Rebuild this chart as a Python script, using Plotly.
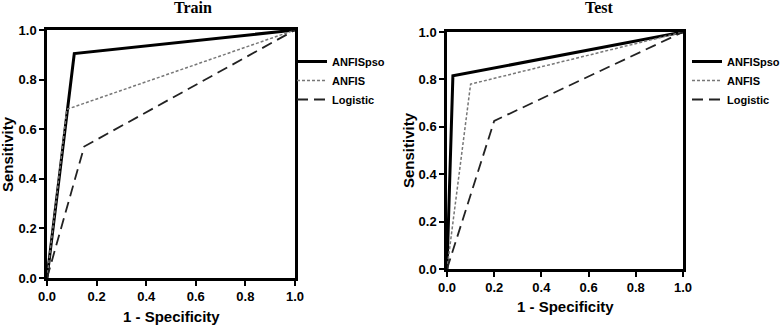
import plotly.graph_objects as go

series_names = ["ANFISpso", "ANFIS", "Logistic"]
train_x = {"ANFISpso": [0.0, 0.11, 1.0], "ANFIS": [0.0, 0.08, 1.0], "Logistic": [0.0, 0.15, 1.0]}
train_y = {"ANFISpso": [0.0, 0.905, 1.0], "ANFIS": [0.0, 0.68, 1.0], "Logistic": [0.0, 0.53, 1.0]}
test_x = {"ANFISpso": [0.0, 0.025, 1.0], "ANFIS": [0.0, 0.10, 1.0], "Logistic": [0.0, 0.20, 1.0]}
test_y = {"ANFISpso": [0.0, 0.815, 1.0], "ANFIS": [0.0, 0.78, 1.0], "Logistic": [0.0, 0.625, 1.0]}
tick_vals = [0.0, 0.2, 0.4, 0.6, 0.8, 1.0]
tick_text = ["0.0", "0.2", "0.4", "0.6", "0.8", "1.0"]

styles = {
    "ANFISpso": dict(color="black", width=3, dash="solid"),
    "ANFIS": dict(color="#777777", width=1.5, dash="3px,2px"),
    "Logistic": dict(color="#222222", width=1.8, dash="11px,6px"),
}

W, H = 784, 326
fig = go.Figure()
for name in series_names:
    fig.add_trace(go.Scatter(x=train_x[name], y=train_y[name], mode="lines", name=name,
                             line=styles[name], xaxis="x", yaxis="y", legend="legend"))
for name in series_names:
    fig.add_trace(go.Scatter(x=test_x[name], y=test_y[name], mode="lines", name=name,
                             line=styles[name], xaxis="x2", yaxis="y2", legend="legend2"))

sans = "Liberation Sans, Arial"
tickfont = dict(family=sans, size=13, color="black", weight="bold")
titlefont = dict(family=sans, size=15, color="black", weight="bold")
legfont = dict(family=sans, size=11, color="black", weight="bold")

def ax(domain, anchor):
    return dict(domain=domain, anchor=anchor, range=[0, 1], tickvals=tick_vals, ticktext=tick_text,
                showgrid=False, zeroline=False, showline=True, mirror=True, linecolor="black",
                linewidth=2.5, ticks="outside", ticklen=5, tickwidth=1.5, tickcolor="black",
                tickfont=tickfont, automargin=False)

def ann(text, x, y, font, angle=0):
    return dict(text=text, x=x / W, y=1 - y / H, xref="paper", yref="paper", showarrow=False,
                xanchor="center", yanchor="middle", textangle=angle, font=font)

serif = dict(family="Liberation Serif, Times New Roman", size=16, color="black", weight="bold")

fig.update_layout(
    width=W, height=H, margin=dict(l=0, r=0, t=0, b=0, autoexpand=False),
    plot_bgcolor="white", paper_bgcolor="white",
    xaxis=ax([47 / W, 295 / W], "y"),
    yaxis=ax([1 - 278 / H, 1 - 30 / H], "x"),
    xaxis2=ax([447 / W, 683 / W], "y2"),
    yaxis2=ax([1 - 269 / H, 1 - 32 / H], "x2"),
    legend=dict(x=292 / W, y=1 - 47 / H, xanchor="left", yanchor="top", bgcolor="rgba(0,0,0,0)",
                font=legfont, tracegroupgap=0, itemwidth=30),
    legend2=dict(x=687 / W, y=1 - 47 / H, xanchor="left", yanchor="top", bgcolor="rgba(0,0,0,0)",
                 font=legfont, tracegroupgap=0, itemwidth=30),
    annotations=[
        ann("Train", 193, 8, serif),
        ann("Test", 599, 8, serif),
        ann("1 - Specificity", 171, 316, titlefont),
        ann("1 - Specificity", 565, 306, titlefont),
        ann("Sensitivity", 8, 154, titlefont, -90),
        ann("Sensitivity", 408, 150, titlefont, -90),
    ],
)

fig.write_html("out.html", config={"displayModeBar": False},
               post_script="document.body.style.margin='0';document.body.style.overflow='hidden';")
